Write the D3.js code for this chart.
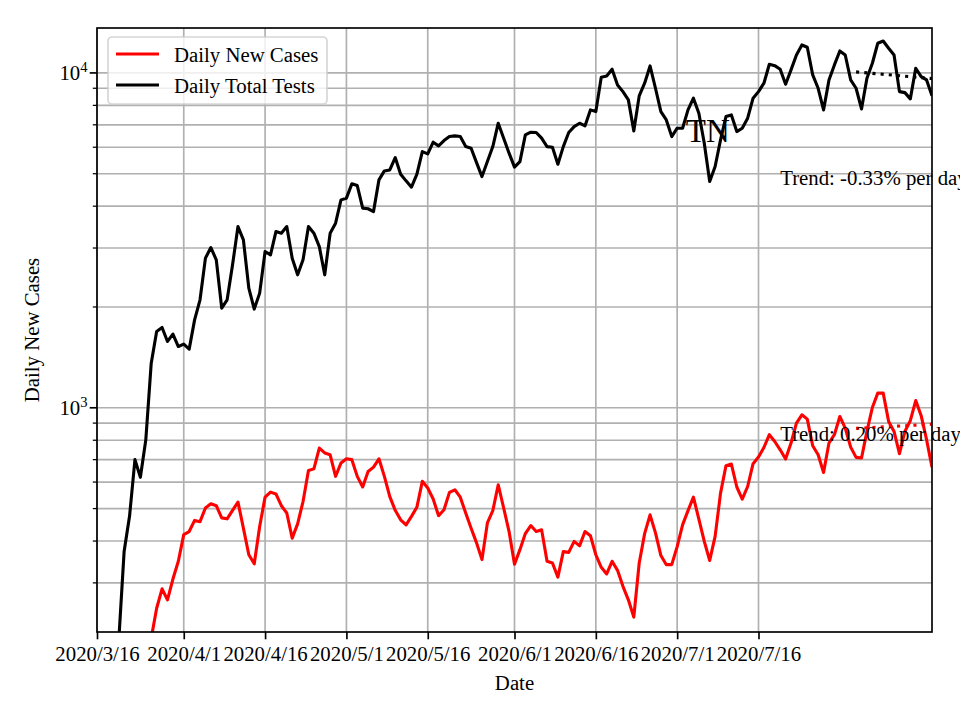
<!DOCTYPE html>
<html>
<head>
<meta charset="utf-8">
<script src="https://cdn.jsdelivr.net/npm/d3@7"></script>
<style>
  html, body { margin: 0; padding: 0; background: #fff; }
  svg { display: block; font-family: "Liberation Serif", "Times New Roman", serif; }
</style>
</head>
<body>
<svg id="chart" width="960" height="720"></svg>
<script>
// ---------------- data ----------------
const seriesStart = "2020-03-16";
const axisEnd = "2020-08-17";

// Daily Total Tests, one value per day starting 2020-03-20
const testsStartOffset = 4;
const dailyTests = [
  200, 372, 474, 700, 620, 802, 1359, 1690, 1737, 1578,
  1660, 1524, 1549, 1497, 1830, 2101, 2798, 3010, 2766, 1984,
  2101, 2673, 3477, 3173, 2277, 1971, 2200, 2928, 2862, 3360,
  3322, 3477, 2798, 2495, 2766, 3477, 3322, 3030, 2495, 3322,
  3558, 4177, 4227, 4664, 4610, 3946, 3930, 3855, 4793, 5098,
  5133, 5587, 4985, 4761, 4558, 4985, 5823, 5731, 6211, 6055,
  6281, 6456, 6486, 6456, 6026, 5960, 5398, 4903, 5436, 6026,
  7077, 6385, 5759, 5231, 5436, 6531, 6653, 6640, 6385, 6026,
  6001, 5339, 6026, 6640, 6914, 7077, 6948, 7756, 7665, 9710,
  9795, 10257, 9208, 8794, 8308, 6713, 8541, 9318, 10493, 9000,
  7665, 7237, 6456, 6838, 6838, 7756, 8407, 7581, 6169, 4738,
  5253, 6310, 7406, 7492, 6680, 6838, 7324, 8407, 8794, 9318,
  10617, 10515, 10257, 9254, 10209, 11315, 12121, 11930, 9863, 9000,
  7756, 9531, 10566, 11631, 11315, 9531, 9000, 7808, 9643, 10689,
  12263, 12458, 11850, 11315, 8794, 8734, 8366, 10328, 9750, 9531,
  8541
];

// Daily New Cases, one value per day starting 2020-03-26
const casesStartOffset = 10;
const dailyCases = [
  205, 252, 288, 267, 308, 348, 418, 427, 461, 457,
  502, 517, 510, 469, 466, 494, 523, 437, 364, 342,
  442, 541, 560, 553, 510, 485, 408, 450, 525, 650,
  657, 758, 733, 724, 624, 684, 704, 700, 624, 580,
  645, 665, 704, 624, 543, 494, 463, 447, 474, 505,
  603, 576, 534, 476, 496, 559, 569, 541, 485, 437,
  395, 352, 453, 493, 589, 502, 427, 341, 377, 421,
  445, 427, 432, 348, 344, 312, 372, 370, 399, 387,
  427, 415, 364, 334, 319, 348, 327, 293, 267, 237,
  344, 421, 479, 423, 362, 340, 340, 385, 447, 493,
  541, 465, 399, 350, 413, 556, 671, 679, 580, 534,
  582, 681, 713, 761, 831, 793, 749, 703, 785, 900,
  953, 925, 770, 724, 641, 785, 831, 942, 870, 763,
  711, 708, 850, 1002, 1106, 1106, 910, 850, 729, 850,
  915, 1051, 947, 803, 665
];

// trend segments: [date, value] endpoints
const trendTestsDates = ["2020-08-03", "2020-08-17"];
const trendTestsValues = [10070, 9620];
const trendCasesDates = ["2020-08-03", "2020-08-17"];
const trendCasesValues = [868, 893];

const trendLabels = ["Trend: -0.33% per day", "Trend: 0.20% per day"];
const trendLabelDates = ["2020-07-20", "2020-07-20"];
const trendLabelValues = [4630, 797];

const markerLabel = "TN";
const markerDate = "2020-07-02T14:00";
const markerValue = 6220;

const xTickDates = ["2020-03-16", "2020-04-01", "2020-04-16", "2020-05-01", "2020-05-16",
                    "2020-06-01", "2020-06-16", "2020-07-01", "2020-07-16"];
const yMajorTicks = [1000, 10000];
const yMajorExponents = ["3", "4"];
const yMinorTicks = [300, 400, 500, 600, 700, 800, 900, 2000, 3000, 4000, 5000, 6000, 7000, 8000, 9000];
const yDomain = [214, 13620];

const legendItems = ["Daily New Cases", "Daily Total Tests"];
const legendColors = ["#ff0000", "#000000"];

// ---------------- drawing ----------------
const parse = s => new Date(s.length > 10 ? s : s + "T00:00");
const start = parse(seriesStart);
const dayAt = i => d3.timeDay.offset(start, i);

const pLeft = 97, pRight = 932, pTop = 28, pBottom = 632;
const FS = 20.8;

const svg = d3.select("#chart");
const x = d3.scaleTime().domain([start, parse(axisEnd)]).range([pLeft, pRight]);
const y = d3.scaleLog().domain(yDomain).range([pBottom, pTop]);

svg.append("defs").append("clipPath").attr("id", "plotclip")
  .append("rect").attr("x", pLeft).attr("y", pTop).attr("width", pRight - pLeft).attr("height", pBottom - pTop);

// grid
const grid = svg.append("g").attr("stroke", "#b0b0b0").attr("stroke-width", 1.67);
xTickDates.forEach(s => {
  const px = x(parse(s));
  grid.append("line").attr("x1", px).attr("x2", px).attr("y1", pTop).attr("y2", pBottom);
});
yMajorTicks.concat(yMinorTicks).forEach(v => {
  const py = y(v);
  grid.append("line").attr("x1", pLeft).attr("x2", pRight).attr("y1", py).attr("y2", py);
});

// lines
const plot = svg.append("g").attr("clip-path", "url(#plotclip)");
const line = d3.line().x(d => x(d[0])).y(d => y(d[1]));
const testsData = dailyTests.map((v, i) => [dayAt(testsStartOffset + i), v]);
const casesData = dailyCases.map((v, i) => [dayAt(casesStartOffset + i), v]);

plot.append("path").datum(casesData).attr("d", line)
  .attr("fill", "none").attr("stroke", legendColors[0]).attr("stroke-width", 3.1)
  .attr("stroke-linejoin", "round");
plot.append("path").datum(testsData).attr("d", line)
  .attr("fill", "none").attr("stroke", legendColors[1]).attr("stroke-width", 3.1)
  .attr("stroke-linejoin", "round");

// trend lines
const tTests = trendTestsDates.map((d, i) => [parse(d), trendTestsValues[i]]);
const tCases = trendCasesDates.map((d, i) => [parse(d), trendCasesValues[i]]);
plot.append("path").datum(tTests).attr("d", line).attr("fill", "none")
  .attr("stroke", "#000").attr("stroke-width", 3.1).attr("stroke-dasharray", "3.1 5.1");
plot.append("path").datum(tCases).attr("d", line).attr("fill", "none")
  .attr("stroke", "#ff0000").attr("stroke-width", 3.1).attr("stroke-dasharray", "3.1 5.1");

// text annotations
trendLabels.forEach((t, i) => {
  svg.append("text").attr("x", x(parse(trendLabelDates[i]))).attr("y", y(trendLabelValues[i]))
    .attr("font-size", FS).attr("fill", "#000").text(t);
});
svg.append("text").attr("x", x(parse(markerDate))).attr("y", y(markerValue))
  .attr("font-size", 33).attr("fill", "#000").text(markerLabel);

// axes
const xAxis = d3.axisBottom(x).tickValues(xTickDates.map(parse))
  .tickFormat(d => `${d.getFullYear()}/${d.getMonth() + 1}/${d.getDate()}`)
  .tickSize(7.3).tickPadding(6.5).tickSizeOuter(0);
const gx = svg.append("g").attr("transform", `translate(0,${pBottom})`).call(xAxis);
gx.select(".domain").remove();
gx.selectAll(".tick line").attr("stroke", "#000").attr("stroke-width", 1.67);
gx.selectAll(".tick text").attr("font-size", FS).attr("font-family", "Liberation Serif, serif").attr("fill", "#000");

// y ticks
const gy = svg.append("g");
yMajorTicks.forEach((v, i) => {
  const py = y(v);
  gy.append("line").attr("x1", pLeft - 7.3).attr("x2", pLeft).attr("y1", py).attr("y2", py)
    .attr("stroke", "#000").attr("stroke-width", 1.67);
  const t = gy.append("text").attr("x", pLeft - 9.5).attr("y", py + 7.5)
    .attr("text-anchor", "end").attr("font-size", FS).attr("fill", "#000");
  t.append("tspan").text("10");
  t.append("tspan").attr("font-size", 14.6).attr("dy", -8.5).text(yMajorExponents[i]);
});
yMinorTicks.forEach(v => {
  const py = y(v);
  gy.append("line").attr("x1", pLeft - 4.2).attr("x2", pLeft).attr("y1", py).attr("y2", py)
    .attr("stroke", "#000").attr("stroke-width", 1.25);
});

// frame
svg.append("rect").attr("x", pLeft).attr("y", pTop).attr("width", pRight - pLeft).attr("height", pBottom - pTop)
  .attr("fill", "none").attr("stroke", "#000").attr("stroke-width", 1.67);

// axis labels
svg.append("text").attr("x", (pLeft + pRight) / 2).attr("y", 690).attr("text-anchor", "middle")
  .attr("font-size", FS).attr("fill", "#000").text("Date");
svg.append("text").attr("transform", `translate(39,${(pTop + pBottom) / 2}) rotate(-90)`)
  .attr("text-anchor", "middle").attr("font-size", FS).attr("fill", "#000").text("Daily New Cases");

// legend
const lg = svg.append("g");
lg.append("rect").attr("x", 108).attr("y", 37).attr("width", 219).attr("height", 67)
  .attr("rx", 4).attr("fill", "#fff").attr("fill-opacity", 0.8)
  .attr("stroke", "#cccccc").attr("stroke-opacity", 0.8).attr("stroke-width", 1.67);
legendItems.forEach((name, i) => {
  const cy = 54 + i * 31;
  lg.append("line").attr("x1", 116).attr("x2", 159).attr("y1", cy).attr("y2", cy)
    .attr("stroke", legendColors[i]).attr("stroke-width", 3.1);
  lg.append("text").attr("x", 174).attr("y", cy + 7.5).attr("font-size", FS).attr("fill", "#000").text(name);
});
</script>
</body>
</html>
